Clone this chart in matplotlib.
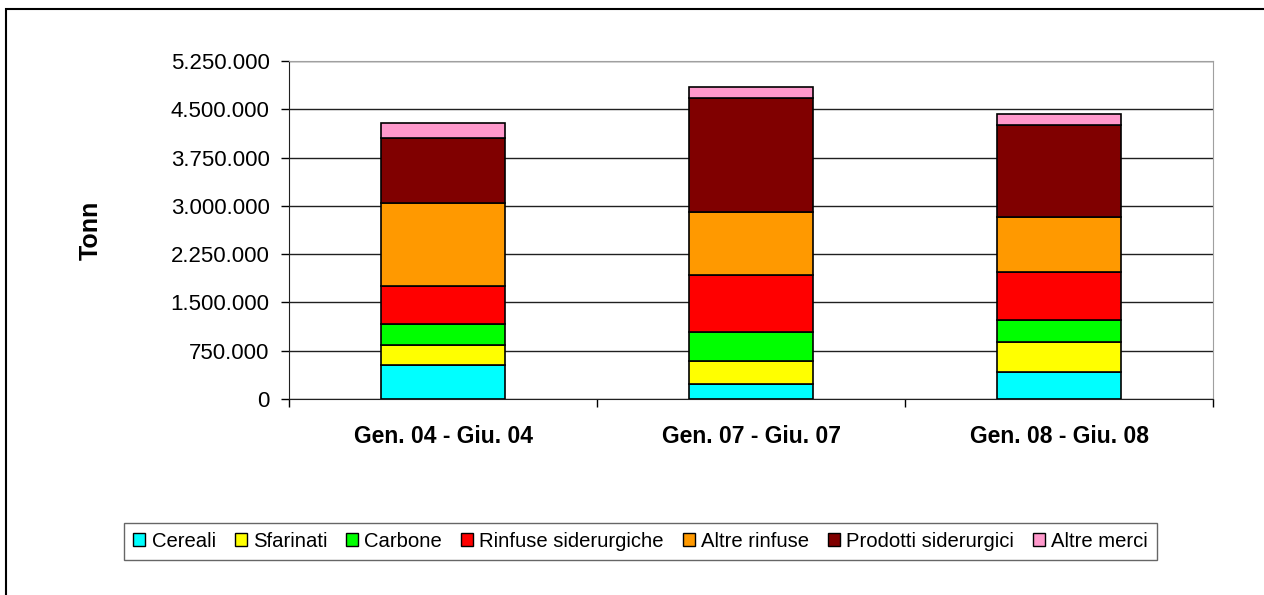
import matplotlib.pyplot as plt
import matplotlib.patches as mpatches
import numpy as np
from matplotlib.ticker import FuncFormatter

plt.rcParams['font.family'] = ['Liberation Sans', 'DejaVu Sans']

categories = ["Gen. 04 - Giu. 04", "Gen. 07 - Giu. 07", "Gen. 08 - Giu. 08"]
series_names = ["Cereali", "Sfarinati", "Carbone", "Rinfuse siderurgiche",
                "Altre rinfuse", "Prodotti siderurgici", "Altre merci"]
cereali = [523000, 228000, 419000]
sfarinati = [316000, 367000, 471000]
carbone = [326000, 441000, 342000]
rinfuse_sid = [590000, 885000, 741000]
altre_rinfuse = [1294000, 984000, 859000]
prodotti_sid = [1000000, 1766000, 1424000]
altre_merci = [233000, 180000, 171000]
colors = ["#00FFFF", "#FFFF00", "#00FF00", "#FF0000", "#FF9900", "#800000", "#FF99CC"]
yticks = [0, 750000, 1500000, 2250000, 3000000, 3750000, 4500000, 5250000]

series = [cereali, sfarinati, carbone, rinfuse_sid, altre_rinfuse, prodotti_sid, altre_merci]

fig = plt.figure(figsize=(12.64, 5.95), dpi=100)
ax = fig.add_axes([289 / 1264, 1 - 399 / 595, (1213 - 289) / 1264, (399 - 61) / 595])

x = np.arange(len(categories))
bottom = np.zeros(len(categories))
handles = []
for vals, name, col in zip(series, series_names, colors):
    ax.bar(x, vals, width=0.4, bottom=bottom, color=col, edgecolor="black",
           linewidth=1.2, zorder=3, label=name)
    bottom += np.array(vals)
    handles.append(mpatches.Patch(facecolor=col, edgecolor="black", linewidth=1, label=name))

ax.set_xlim(-0.5, 2.5)
ax.set_ylim(0, 5250000)
ax.set_yticks(yticks)
ax.yaxis.set_major_formatter(FuncFormatter(lambda v, p: f"{int(v):,}".replace(",", ".")))
ax.yaxis.grid(True, color="#202020", linewidth=1, zorder=0)
ax.tick_params(axis="y", direction="out", length=6, width=1, pad=8, labelsize=16)

ax.set_xticks(x)
ax.set_xticklabels(categories, fontsize=16.5, fontweight="bold")
ax.set_xticks([-0.5, 0.5, 1.5, 2.5], minor=True)
ax.tick_params(axis="x", which="major", length=0, pad=19)
ax.tick_params(axis="x", which="minor", direction="out", length=6, width=1)

for side in ["top", "right"]:
    ax.spines[side].set_color("#a0a0a0")
for side in ["left", "bottom"]:
    ax.spines[side].set_color("#202020")

# y label: right edge of the rotated text sits near x=102 px
ax.set_ylabel("Tonn", fontsize=18, fontweight="bold")
ax.yaxis.set_label_coords((103 - 289) / (1213 - 289), 0.5)

leg = fig.legend(handles=handles, loc="center", ncol=7,
                 bbox_to_anchor=((122 + 1159) / 2 / 1264, 1 - 541.5 / 595),
                 fontsize=14.6, frameon=True, fancybox=False,
                 handlelength=0.6, handleheight=0.6, handletextpad=0.3,
                 columnspacing=0.93, borderpad=0.45)
leg.get_frame().set_edgecolor("#404040")
leg.get_frame().set_linewidth(1)

# outer chart frame, only top and left edges fall inside the image
fig.patches.append(mpatches.Rectangle((6 / 1264, -0.2), 1.2, 1.2 - 9 / 595,
                                      transform=fig.transFigure, fill=False,
                                      edgecolor="black", linewidth=1.5))

fig.savefig("out.png", dpi=100)
